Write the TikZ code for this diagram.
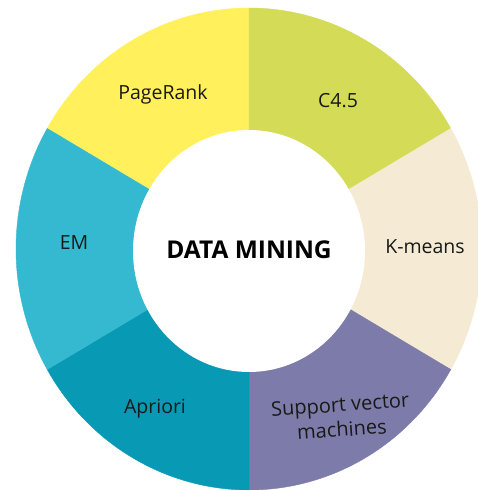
\documentclass[tikz,border=0pt]{standalone}
\usepackage{fontspec}
\setmainfont{Open Sans}
\usetikzlibrary{calc}

\definecolor{pagerankcol}{HTML}{FFF05C}
\definecolor{cfourcol}{HTML}{D4DB56}
\definecolor{kmeanscol}{HTML}{F5EBD5}
\definecolor{svmcol}{HTML}{7D7BAA}
\definecolor{aprioricol}{HTML}{0899B4}
\definecolor{emcol}{HTML}{35B9D0}

\tikzset{
  label/.style={font=\fontsize{19.5}{23}\selectfont, text=black!90, align=center},
  slice/.style={line width=0.4pt, draw=#1, fill=#1},
}

% one wedge of the outer ellipse between two angles
\newcommand{\ringslice}[3]{%
  \path[slice=#3] (c) -- ($(c)+(#1:233pt and 241pt)$)
    arc[start angle=#1, end angle=#2, x radius=233pt, y radius=241pt] -- cycle;}

\begin{document}
\begin{tikzpicture}[x=1pt,y=1pt]
  \useasboundingbox[fill=white] (0,0) rectangle (478,490);
  \coordinate (c) at (249,241);

  \ringslice{90}{150}{pagerankcol}
  \ringslice{30}{90}{cfourcol}
  \ringslice{-30}{30}{kmeanscol}
  \ringslice{-90}{-30}{svmcol}
  \ringslice{-150}{-90}{aprioricol}
  \ringslice{150}{210}{emcol}

  % white hub
  \fill[white] (249,239) ellipse[x radius=116pt, y radius=121pt];

  \node[font=\bfseries\fontsize{24.5}{28}\selectfont] (hub) at (249,240) {DATA MINING};

  \node[label] (pagerank) at (163,396) {PageRank};
  \node[label] (cfour)    at (338,389) {C4.5};
  \node[label] (kmeans)   at (425,243) {K-means};
  \node[label, rotate=4, font=\fontsize{20}{25}\selectfont] (svm) at (341,73) {Support vector\\machines};
  \node[label] (apriori)  at (155,81)  {Apriori};
  \node[label] (em)       at (74,247)  {EM};
\end{tikzpicture}
\end{document}
